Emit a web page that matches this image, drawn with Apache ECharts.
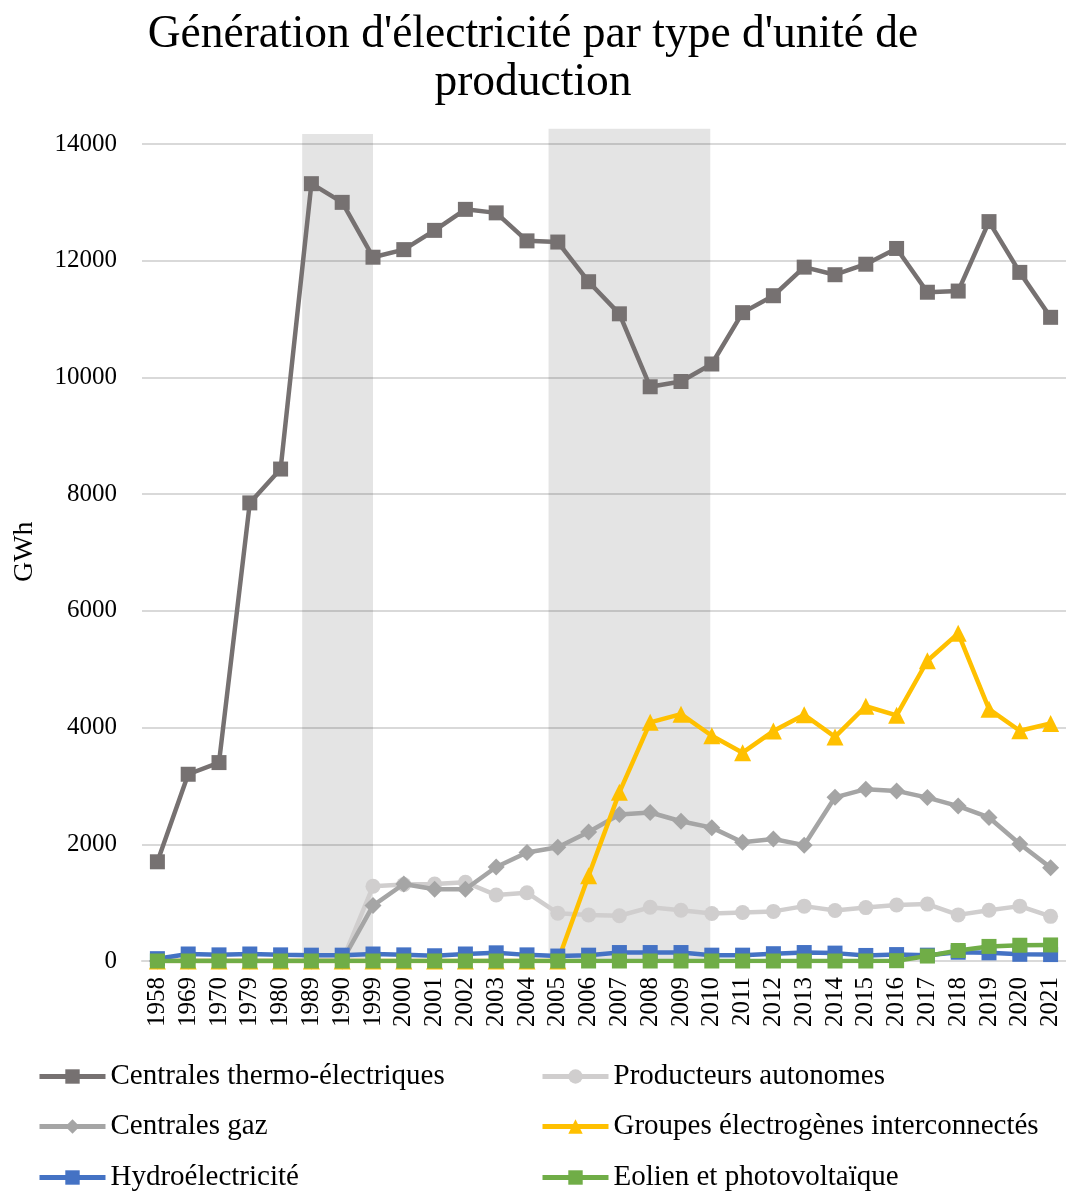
<!DOCTYPE html>
<html>
<head>
<meta charset="utf-8">
<script src="https://cdn.jsdelivr.net/npm/echarts@6/dist/echarts.min.js"></script>
<style>
html,body{margin:0;padding:0;background:#fff;}
#chart{width:1066px;height:1191px;}
</style>
</head>
<body>
<div id="chart"></div>
<script>
var categories = ['1958','1969','1970','1979','1980','1989','1990','1999','2000','2001','2002','2003','2004','2005','2006','2007','2008','2009','2010','2011','2012','2013','2014','2015','2016','2017','2018','2019','2020','2021'];
var thermo = [1700,3200,3400,7850,8430,13320,13000,12060,12190,12520,12880,12820,12340,12320,11640,11090,9840,9930,10230,11110,11400,11890,11760,11940,12210,11460,11480,12670,11800,11030];
var producteurs = [0,0,0,0,0,0,0,1280,1310,1320,1350,1130,1170,820,790,775,920,870,815,830,850,940,865,915,960,975,790,870,940,765];
var gaz = [0,0,0,0,0,0,0,950,1320,1230,1230,1610,1860,1950,2210,2510,2545,2395,2285,2035,2090,1985,2805,2945,2915,2800,2655,2460,2005,1600];
var groupes = [0,0,0,0,0,0,0,0,0,0,0,0,0,0,1460,2890,4090,4230,3860,3570,3940,4220,3840,4365,4210,5145,5615,4315,3945,4070];
var hydro = [40,120,105,120,105,100,100,120,105,90,120,140,105,85,100,145,145,145,100,100,125,145,135,95,110,100,150,140,115,110];
var eolien = [0,0,0,0,0,0,0,0,0,0,0,0,0,0,0,0,0,0,0,0,0,0,0,0,5,85,180,250,270,275];
// value axis: ticks every 2000 from 0 to 14000 (axis extent a bit above so the shaded bands can overshoot)
var yTicks = {min:0, lastTick:14000, interval:2000, extentMax:14300};
// shaded periods, in category-index units on a hidden linear axis
var bandStart = [4.7, 12.7];
var bandEnd = [7.0, 17.95];
var bandTop = [14170, 14260];

var FONT = 'Liberation Serif';
var names = ['Centrales thermo-électriques','Producteurs autonomes','Centrales gaz','Groupes électrogènes interconnectés','Hydroélectricité','Eolien et photovoltaïque'];
var colors = ['#767171','#D0CECE','#A5A5A5','#FFC000','#4472C4','#70AD47'];
var symbols = ['rect','circle','diamond','triangle','rect','rect'];
var sizes = [15,15,17,17,15,15];
var datas = [thermo, producteurs, gaz, groupes, hydro, eolien];

var chart = echarts.init(document.getElementById('chart'), null, {renderer:'canvas'});
var series = datas.map(function(d, i){
  return {
    name: names[i], type:'line', data:d, xAxisIndex:0, yAxisIndex:0,
    symbol: symbols[i], symbolSize: sizes[i], showAllSymbol:true,
    itemStyle:{color:colors[i]}, lineStyle:{color:colors[i], width:4.5},
    z: 3 + i, animation:false
  };
});
var areas = bandStart.map(function(s, i){
  return [{xAxis:s, yAxis:0}, {xAxis:bandEnd[i], yAxis:bandTop[i]}];
});
series.unshift({
  name:'bands', type:'line', xAxisIndex:1, yAxisIndex:0, data:[], z:1,
  markArea:{silent:true, itemStyle:{color:'rgba(0,0,0,0.105)'}, data:areas},
  animation:false
});

// 14000 sits at y=144, 0 at y=961 -> pixels per unit
var plotBottom = 961, plotTick = 144;
var pxPerUnit = (plotBottom - plotTick) / yTicks.lastTick;
var gridTop = plotTick - (yTicks.extentMax - yTicks.lastTick) * pxPerUnit;

// legend: 2 columns x 3 rows, one legend component per entry
var legendCols = [37, 540];
var legendRows = [1062, 1112, 1163];
var legends = names.map(function(n, i){
  return {
    data:[n], orient:'horizontal', left:legendCols[i % 2], top:legendRows[Math.floor(i / 2)],
    padding:0, itemWidth:66, itemHeight:18, lineStyle:{width:5},
    textStyle:{fontFamily:FONT, fontSize:29, lineHeight:29, color:'#000'}
  };
});

chart.setOption({
  animation:false,
  backgroundColor:'#fff',
  title:{
    text:"Génération d'électricité par type d'unité de\nproduction",
    left:'center', top:6,
    textStyle:{fontFamily:FONT, fontSize:45.5, fontWeight:'normal', color:'#000', lineHeight:48}
  },
  grid:{left:142, right:0, top:gridTop, bottom:1191 - plotBottom, containLabel:false},
  legend:legends,
  xAxis:[
    {type:'category', data:categories, boundaryGap:true,
     axisLine:{show:true, lineStyle:{color:'#D9D9D9', width:2}},
     axisTick:{show:false},
     axisLabel:{rotate:90, interval:0, fontFamily:FONT, fontSize:25, color:'#000', margin:16}},
    {type:'value', min:-0.5, max:categories.length-0.5, show:false}
  ],
  yAxis:{
    type:'value', min:yTicks.min, max:yTicks.extentMax, interval:yTicks.interval,
    name:'GWh', nameLocation:'middle', nameGap:103, nameRotate:90,
    nameTextStyle:{fontFamily:FONT, fontSize:28, color:'#000', padding:[0,16,0,0]},
    axisLine:{show:false}, axisTick:{show:false},
    axisLabel:{fontFamily:FONT, fontSize:25, color:'#000', margin:25, showMaxLabel:false,
      formatter:function(v){ return v > yTicks.lastTick ? '' : String(v); }},
    splitLine:{showMaxLine:false, lineStyle:{color:'#D9D9D9', width:2}}
  },
  series:series
});
</script>
</body>
</html>
